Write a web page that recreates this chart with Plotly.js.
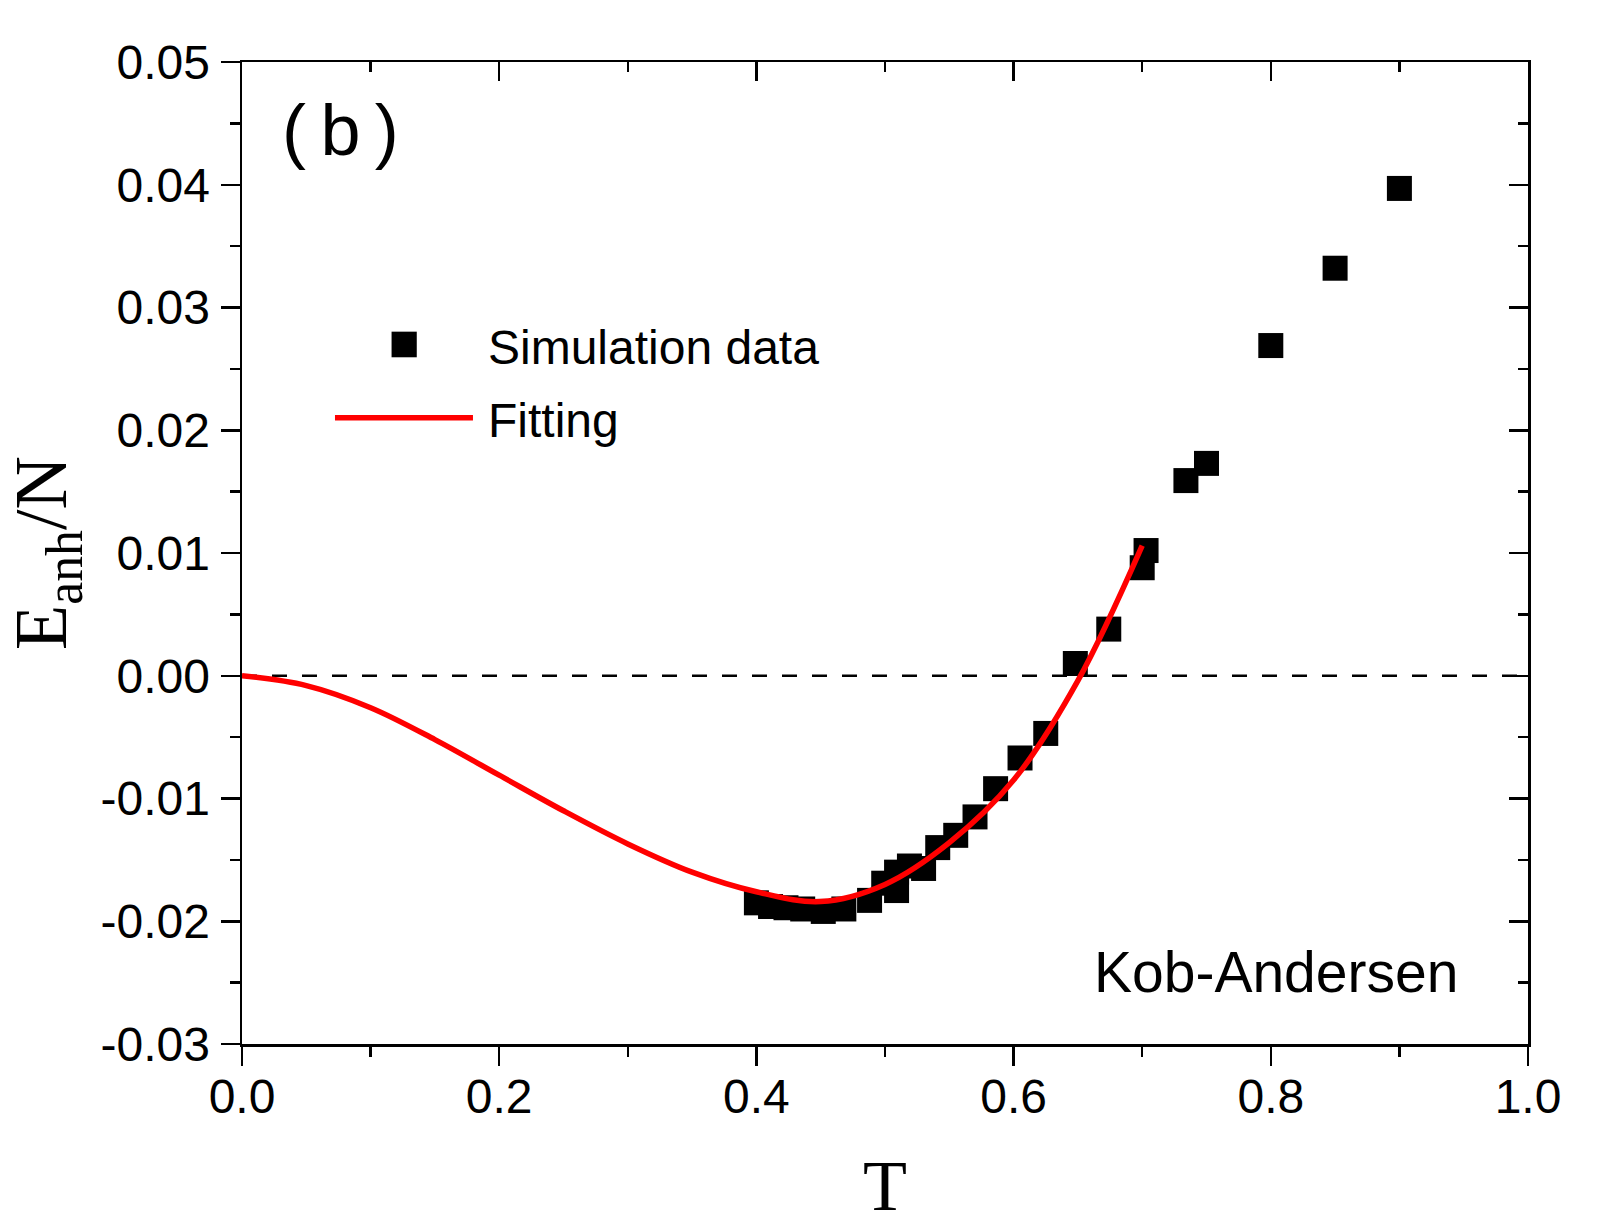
<!DOCTYPE html>
<html>
<head>
<meta charset="utf-8">
<script src="https://cdn.plot.ly/plotly-3.0.1.min.js"></script>
<style>html,body{margin:0;padding:0;background:#fff;}#chart{width:1609px;height:1232px;}</style>
</head>
<body>
<div id="chart"></div>
<script>
// Simulation data (Kob-Andersen)
const simT = [0.400, 0.411, 0.423, 0.436, 0.452, 0.468, 0.488, 0.499, 0.509, 0.509, 0.519, 0.530, 0.541, 0.555, 0.570, 0.586, 0.605, 0.625, 0.648, 0.674, 0.700, 0.703, 0.734, 0.750, 0.800, 0.850, 0.900];
const simE = [-0.0185, -0.0188, -0.0189, -0.0190, -0.0192, -0.0190, -0.0183, -0.0169, -0.0175, -0.0160, -0.0155, -0.0157, -0.0140, -0.0130, -0.0115, -0.0092, -0.0067, -0.0047, 0.0010, 0.0038, 0.0088, 0.0102, 0.0159, 0.0173, 0.0269, 0.0332, 0.0397];

// Fitting curve
const fitT = [0.00, 0.05, 0.10, 0.15, 0.20, 0.25, 0.30, 0.35, 0.40, 0.45, 0.50, 0.55, 0.60, 0.65, 0.70];
const fitE = [0.0000, -0.0008, -0.0026, -0.0052, -0.0081, -0.0110, -0.0137, -0.0160, -0.0176, -0.0184, -0.0170, -0.0136, -0.0085, -0.0004, 0.0106];

// Tick labels
const xTickVals = [0.0, 0.2, 0.4, 0.6, 0.8, 1.0];
const xTickText = ["0.0", "0.2", "0.4", "0.6", "0.8", "1.0"];
const yTickVals = [-0.03, -0.02, -0.01, 0.00, 0.01, 0.02, 0.03, 0.04, 0.05];
const yTickText = ["-0.03", "-0.02", "-0.01", "0.00", "0.01", "0.02", "0.03", "0.04", "0.05"];

const seriesNames = ["Simulation data", "Fitting"];
const panelLabel = "(\u2009b\u2009)";
const systemLabel = "Kob-Andersen";

const xRange = [0, 1];
const yRange = [-0.03, 0.05];

const traces = [
  {
    x: simT, y: simE, type: "scatter", mode: "markers", name: seriesNames[0],
    marker: {symbol: "square", size: 25, color: "#000000", line: {width: 0}},
    showlegend: false, cliponaxis: false
  },
  {
    x: fitT, y: fitE, type: "scatter", mode: "lines", name: seriesNames[1],
    line: {color: "#ff0000", width: 5.5, shape: "spline", smoothing: 1.0},
    showlegend: false
  },
  {
    x: [], y: [], xaxis: "x2", yaxis: "y2", type: "scatter", mode: "markers",
    showlegend: false, hoverinfo: "skip"
  }
];

const axisLine = {showline: true, linecolor: "#000", linewidth: 2.5, showgrid: false, zeroline: false};
const tickFont = {family: "Liberation Sans, Arial, sans-serif", size: 48, color: "#000"};

const layout = {
  width: 1609, height: 1232,
  margin: {l: 242, r: 81, t: 62, b: 188},
  paper_bgcolor: "#fff", plot_bgcolor: "#fff",
  showlegend: false,
  xaxis: Object.assign({}, axisLine, {
    range: xRange, tickmode: "array", tickvals: xTickVals, ticktext: xTickText,
    ticks: "outside", ticklen: 19, tickwidth: 2.5, tickcolor: "#000",
    ticklabelstandoff: -10,
    minor: {tickmode: "linear", tick0: 0, dtick: 0.1, ticks: "outside", ticklen: 10, tickwidth: 2.5, tickcolor: "#000", showgrid: false},
    tickfont: tickFont,
    title: {text: "T", font: {family: "Liberation Serif, Times New Roman, serif", size: 72, color: "#000"}, standoff: 38}
  }),
  yaxis: Object.assign({}, axisLine, {
    range: yRange, tickmode: "array", tickvals: yTickVals, ticktext: yTickText,
    ticks: "outside", ticklen: 19, tickwidth: 2.5, tickcolor: "#000",
    ticklabelstandoff: 1,
    minor: {tickmode: "linear", tick0: 0, dtick: 0.005, ticks: "outside", ticklen: 10, tickwidth: 2.5, tickcolor: "#000", showgrid: false},
    tickfont: tickFont,
    title: {text: "E<sub>anh</sub>/N", font: {family: "Liberation Serif, Times New Roman, serif", size: 74, color: "#000"}, standoff: 20}
  }),
  xaxis2: Object.assign({}, axisLine, {
    overlaying: "x", side: "top", anchor: "y2", range: xRange,
    tickmode: "array", tickvals: xTickVals, showticklabels: false,
    ticks: "inside", ticklen: 19, tickwidth: 2.5, tickcolor: "#000",
    minor: {tickmode: "linear", tick0: 0, dtick: 0.1, ticks: "inside", ticklen: 10, tickwidth: 2.5, tickcolor: "#000", showgrid: false}
  }),
  yaxis2: Object.assign({}, axisLine, {
    overlaying: "y", side: "right", anchor: "x2", range: yRange,
    tickmode: "array", tickvals: yTickVals, showticklabels: false,
    ticks: "inside", ticklen: 19, tickwidth: 2.5, tickcolor: "#000",
    minor: {tickmode: "linear", tick0: 0, dtick: 0.005, ticks: "inside", ticklen: 10, tickwidth: 2.5, tickcolor: "#000", showgrid: false}
  }),
  shapes: [
    {type: "line", xref: "x", yref: "y", x0: xRange[0], x1: xRange[1], y0: 0, y1: 0,
     line: {color: "#000", width: 2.5, dash: "15px,15px"}, layer: "below"},
    // legend samples
    {type: "rect", xref: "paper", yref: "paper", x0: 0.1163, x1: 0.1359, y0: 0.6993, y1: 0.7254,
     fillcolor: "#000", line: {width: 0}},
    {type: "line", xref: "paper", yref: "paper", x0: 0.0723, x1: 0.1796, y0: 0.6378, y1: 0.6378,
     line: {color: "#ff0000", width: 5.5}}
  ],
  annotations: [
    {text: panelLabel, xref: "paper", yref: "paper", x: 0.0296, y: 0.9308, xanchor: "left", yanchor: "middle",
     showarrow: false, font: {family: "Liberation Sans, Arial, sans-serif", size: 72, color: "#000"}},
    {text: seriesNames[0], xref: "paper", yref: "paper", x: 0.1897, y: 0.7093, xanchor: "left", yanchor: "middle",
     showarrow: false, font: {family: "Liberation Sans, Arial, sans-serif", size: 48, color: "#000"}},
    {text: seriesNames[1], xref: "paper", yref: "paper", x: 0.1897, y: 0.6347, xanchor: "left", yanchor: "middle",
     showarrow: false, font: {family: "Liberation Sans, Arial, sans-serif", size: 48, color: "#000"}},
    {text: systemLabel, xref: "paper", yref: "paper", x: 0.6607, y: 0.0730, xanchor: "left", yanchor: "middle",
     showarrow: false, font: {family: "Liberation Sans, Arial, sans-serif", size: 57, color: "#000"}}
  ]
};

Plotly.newPlot("chart", traces, layout, {staticPlot: true, displayModeBar: false});
</script>
</body>
</html>
